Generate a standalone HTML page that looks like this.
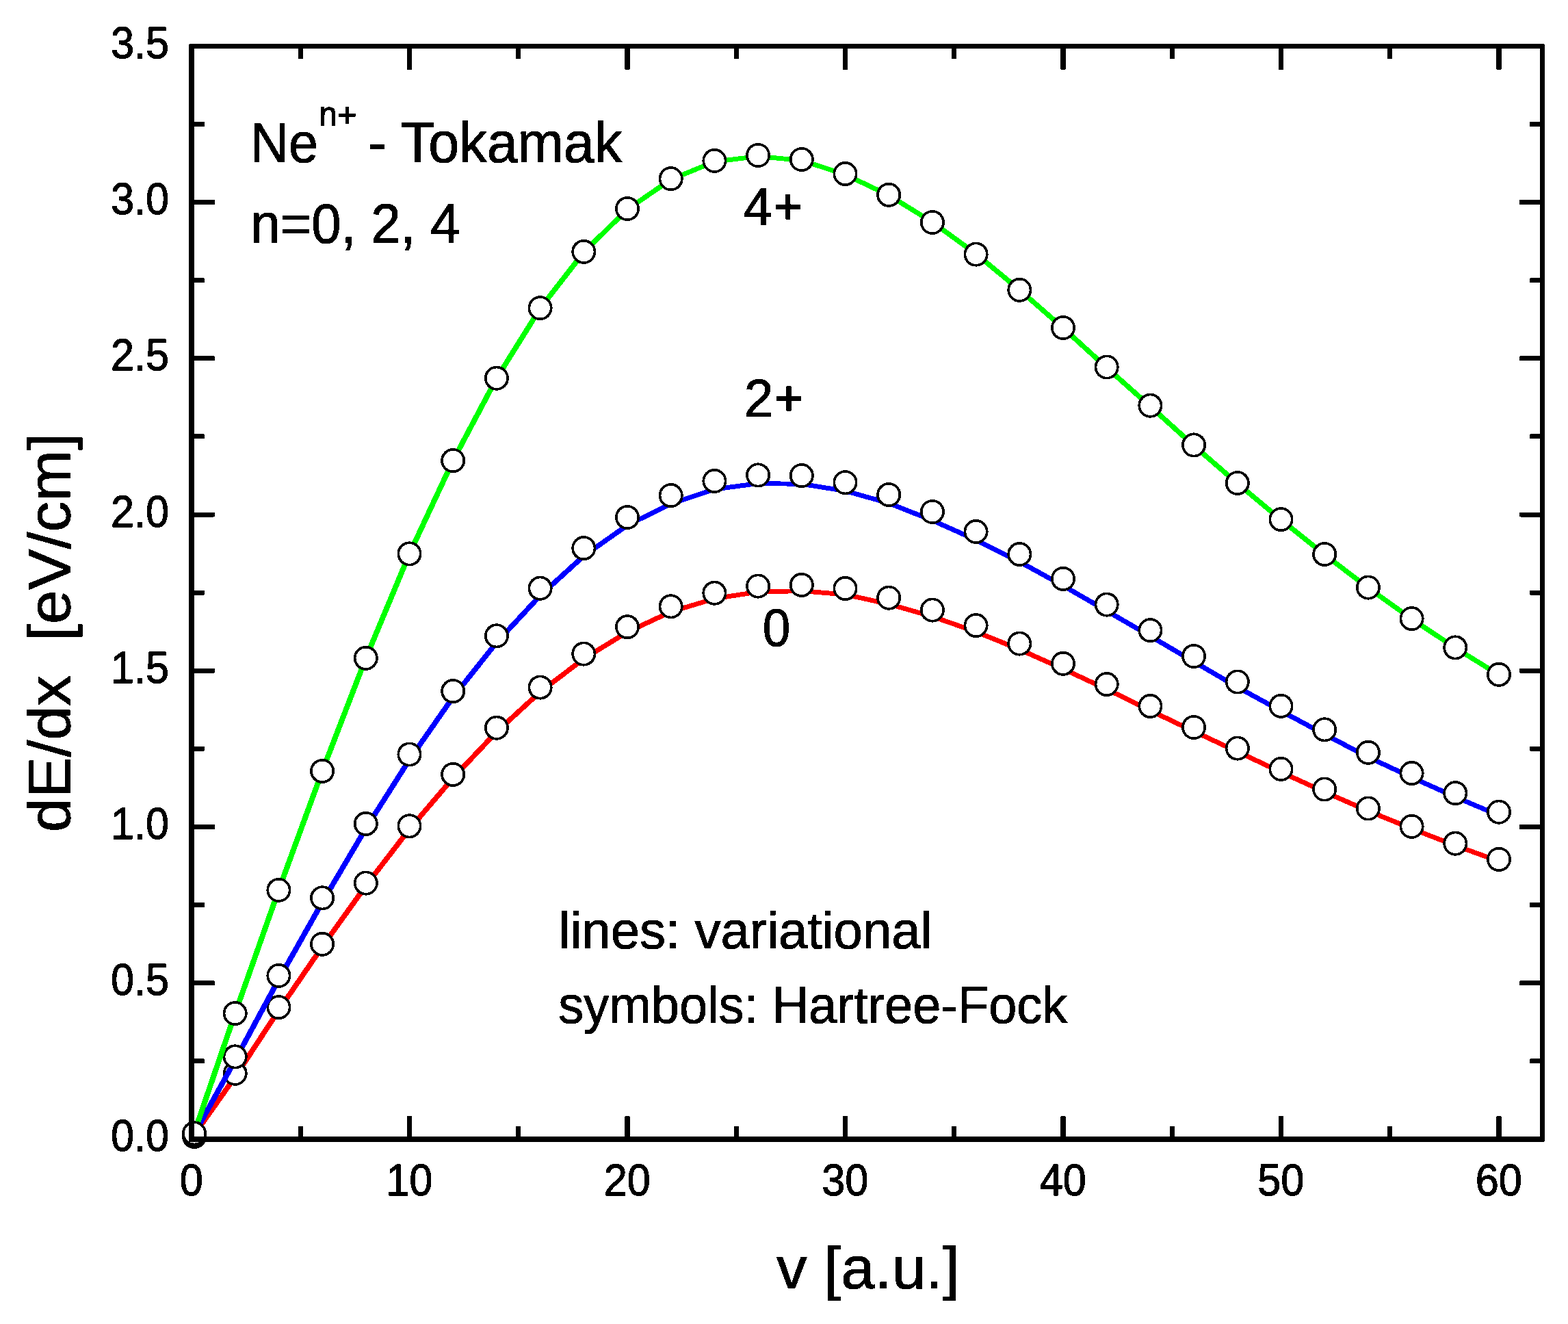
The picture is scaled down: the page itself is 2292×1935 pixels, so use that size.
<!DOCTYPE html>
<html lang="en">
<head>
<meta charset="utf-8">
<title>dE/dx vs v - Ne(n+) in Tokamak plasma</title>
<style>
html,body{margin:0;padding:0;background:#fff;}
body{width:2292px;height:1935px;overflow:hidden;}
svg{display:block;}
text{white-space:pre;}
</style>
</head>
<body>
<svg width="2292" height="1935" viewBox="0 0 2292 1935">
<rect x="0" y="0" width="2292" height="1935" fill="#fff"/>
<defs><filter id="hard" x="0" y="0" width="2292" height="1935" filterUnits="userSpaceOnUse" color-interpolation-filters="sRGB"><feComponentTransfer><feFuncA type="discrete" tableValues="0 1"/></feComponentTransfer></filter></defs>
<g id="data" shape-rendering="crispEdges">
<g fill="none" stroke="#ff0000" stroke-linecap="round"><path d="M282.00 1661.00L343.70 1573.80" stroke-width="7.77"/><path d="M343.70 1573.80L407.40 1476.50" stroke-width="7.81"/><path d="M407.40 1476.50L471.10 1383.60" stroke-width="7.78"/><path d="M471.10 1383.60L534.80 1294.42" stroke-width="7.76"/><path d="M534.80 1294.42L598.50 1211.77" stroke-width="7.72"/><path d="M598.50 1211.77L662.20 1137.07" stroke-width="7.65"/><path d="M662.20 1137.07L725.90 1069.60" stroke-width="7.59"/><path d="M725.90 1069.60L789.60 1011.23" stroke-width="7.49"/><path d="M789.60 1011.23L853.30 962.77" stroke-width="7.38"/><path d="M853.30 962.77L917.00 923.70" stroke-width="7.26"/><path d="M917.00 923.70L980.70 894.13" stroke-width="7.13"/><path d="M980.70 894.13L1044.40 874.85" stroke-width="7.01"/><path d="M1044.40 874.85L1108.10 865.05" stroke-width="6.93"/><path d="M1108.10 865.05L1171.80 863.60" stroke-width="6.90"/><path d="M1171.80 863.60L1235.50 868.90" stroke-width="6.91"/><path d="M1235.50 868.90L1299.20 882.85" stroke-width="6.96"/><path d="M1299.20 882.85L1362.90 901.05" stroke-width="7.00"/><path d="M1362.90 901.05L1426.60 923.35" stroke-width="7.04"/><path d="M1426.60 923.35L1490.30 949.15" stroke-width="7.08"/><path d="M1490.30 949.15L1554.00 977.67" stroke-width="7.12"/><path d="M1554.00 977.67L1617.70 1007.22" stroke-width="7.13"/><path d="M1617.70 1007.22L1681.40 1038.53" stroke-width="7.15"/><path d="M1681.40 1038.53L1745.10 1068.77" stroke-width="7.14"/><path d="M1745.10 1068.77L1808.80 1098.60" stroke-width="7.13"/><path d="M1808.80 1098.60L1872.50 1128.39" stroke-width="7.13"/><path d="M1872.50 1128.39L1936.20 1157.49" stroke-width="7.12"/><path d="M1936.20 1157.49L1999.90 1185.12" stroke-width="7.11"/><path d="M1999.90 1185.12L2063.60 1211.13" stroke-width="7.09"/><path d="M2063.60 1211.13L2127.30 1235.74" stroke-width="7.07"/><path d="M2127.30 1235.74L2191.00 1258.70" stroke-width="7.05"/></g>
<g fill="#fff" stroke="#000" stroke-width="3.7"><circle cx="284.00" cy="1661.00" r="16.15"/><circle cx="343.70" cy="1568.80" r="16.15"/><circle cx="407.40" cy="1472.10" r="16.15"/><circle cx="471.10" cy="1379.80" r="16.15"/><circle cx="534.80" cy="1290.60" r="16.15"/><circle cx="598.50" cy="1207.30" r="16.15"/><circle cx="662.20" cy="1131.90" r="16.15"/><circle cx="725.90" cy="1063.70" r="16.15"/><circle cx="789.60" cy="1004.60" r="16.15"/><circle cx="853.30" cy="955.60" r="16.15"/><circle cx="917.00" cy="916.20" r="16.15"/><circle cx="980.70" cy="886.30" r="16.15"/><circle cx="1044.40" cy="866.70" r="16.15"/><circle cx="1108.10" cy="856.60" r="16.15"/><circle cx="1171.80" cy="854.90" r="16.15"/><circle cx="1235.50" cy="860.00" r="16.15"/><circle cx="1299.20" cy="873.70" r="16.15"/><circle cx="1362.90" cy="891.60" r="16.15"/><circle cx="1426.60" cy="914.10" r="16.15"/><circle cx="1490.30" cy="940.60" r="16.15"/><circle cx="1554.00" cy="969.80" r="16.15"/><circle cx="1617.70" cy="1000.00" r="16.15"/><circle cx="1681.40" cy="1032.00" r="16.15"/><circle cx="1745.10" cy="1063.00" r="16.15"/><circle cx="1808.80" cy="1093.60" r="16.15"/><circle cx="1872.50" cy="1123.90" r="16.15"/><circle cx="1936.20" cy="1153.50" r="16.15"/><circle cx="1999.90" cy="1181.50" r="16.15"/><circle cx="2063.60" cy="1207.80" r="16.15"/><circle cx="2127.30" cy="1232.70" r="16.15"/><circle cx="2191.00" cy="1255.90" r="16.15"/></g>
<g fill="none" stroke="#0000ff" stroke-linecap="round"><path d="M282.00 1661.00L343.70 1549.40" stroke-width="7.90"/><path d="M343.70 1549.40L407.40 1431.55" stroke-width="7.91"/><path d="M407.40 1431.55L471.10 1318.60" stroke-width="7.89"/><path d="M471.10 1318.60L534.80 1210.70" stroke-width="7.86"/><path d="M534.80 1210.70L598.50 1110.28" stroke-width="7.83"/><path d="M598.50 1110.28L662.20 1018.86" stroke-width="7.78"/><path d="M662.20 1018.86L725.90 939.03" stroke-width="7.69"/><path d="M725.90 939.03L789.60 870.41" stroke-width="7.60"/><path d="M789.60 870.41L853.30 812.46" stroke-width="7.49"/><path d="M853.30 812.46L917.00 767.68" stroke-width="7.33"/><path d="M917.00 767.68L980.70 736.10" stroke-width="7.16"/><path d="M980.70 736.10L1044.40 715.08" stroke-width="7.03"/><path d="M1044.40 715.08L1108.10 706.56" stroke-width="6.92"/><path d="M1108.10 706.56L1171.80 707.33" stroke-width="6.90"/><path d="M1171.80 707.33L1235.50 717.48" stroke-width="6.93"/><path d="M1235.50 717.48L1299.20 735.38" stroke-width="7.00"/><path d="M1299.20 735.38L1362.90 760.52" stroke-width="7.08"/><path d="M1362.90 760.52L1426.60 789.08" stroke-width="7.12"/><path d="M1426.60 789.08L1490.30 821.02" stroke-width="7.16"/><path d="M1490.30 821.02L1554.00 855.96" stroke-width="7.20"/><path d="M1554.00 855.96L1617.70 892.77" stroke-width="7.23"/><path d="M1617.70 892.77L1681.40 929.66" stroke-width="7.23"/><path d="M1681.40 929.66L1745.10 967.07" stroke-width="7.23"/><path d="M1745.10 967.07L1808.80 1004.18" stroke-width="7.23"/><path d="M1808.80 1004.18L1872.50 1039.09" stroke-width="7.20"/><path d="M1872.50 1039.09L1936.20 1073.23" stroke-width="7.19"/><path d="M1936.20 1073.23L1999.90 1106.44" stroke-width="7.18"/><path d="M1999.90 1106.44L2063.60 1136.17" stroke-width="7.13"/><path d="M2063.60 1136.17L2127.30 1164.73" stroke-width="7.12"/><path d="M2127.30 1164.73L2191.00 1191.70" stroke-width="7.10"/></g>
<g fill="#fff" stroke="#000" stroke-width="3.7"><circle cx="284.00" cy="1659.00" r="16.15"/><circle cx="343.70" cy="1544.40" r="16.15"/><circle cx="407.40" cy="1425.90" r="16.15"/><circle cx="471.10" cy="1312.30" r="16.15"/><circle cx="534.80" cy="1203.90" r="16.15"/><circle cx="598.50" cy="1102.50" r="16.15"/><circle cx="662.20" cy="1010.10" r="16.15"/><circle cx="725.90" cy="929.30" r="16.15"/><circle cx="789.60" cy="859.70" r="16.15"/><circle cx="853.30" cy="801.10" r="16.15"/><circle cx="917.00" cy="756.00" r="16.15"/><circle cx="980.70" cy="724.10" r="16.15"/><circle cx="1044.40" cy="703.00" r="16.15"/><circle cx="1108.10" cy="694.40" r="16.15"/><circle cx="1171.80" cy="695.10" r="16.15"/><circle cx="1235.50" cy="705.20" r="16.15"/><circle cx="1299.20" cy="723.00" r="16.15"/><circle cx="1362.90" cy="748.00" r="16.15"/><circle cx="1426.60" cy="777.00" r="16.15"/><circle cx="1490.30" cy="810.00" r="16.15"/><circle cx="1554.00" cy="845.90" r="16.15"/><circle cx="1617.70" cy="883.60" r="16.15"/><circle cx="1681.40" cy="921.20" r="16.15"/><circle cx="1745.10" cy="959.00" r="16.15"/><circle cx="1808.80" cy="996.50" r="16.15"/><circle cx="1872.50" cy="1031.80" r="16.15"/><circle cx="1936.20" cy="1066.30" r="16.15"/><circle cx="1999.90" cy="1099.80" r="16.15"/><circle cx="2063.60" cy="1130.00" r="16.15"/><circle cx="2127.30" cy="1159.20" r="16.15"/><circle cx="2191.00" cy="1186.70" r="16.15"/></g>
<g fill="none" stroke="#00ff00" stroke-linecap="round"><path d="M282.00 1661.00L343.70 1481.00" stroke-width="8.06"/><path d="M343.70 1481.00L407.40 1300.80" stroke-width="8.06"/><path d="M407.40 1300.80L471.10 1126.90" stroke-width="8.05"/><path d="M471.10 1126.90L534.80 961.80" stroke-width="8.03"/><path d="M534.80 961.80L598.50 809.40" stroke-width="8.01"/><path d="M598.50 809.40L662.20 673.10" stroke-width="7.97"/><path d="M662.20 673.10L725.90 552.95" stroke-width="7.91"/><path d="M725.90 552.95L789.60 450.70" stroke-width="7.84"/><path d="M789.60 450.70L853.30 368.65" stroke-width="7.71"/><path d="M853.30 368.65L917.00 306.00" stroke-width="7.54"/><path d="M917.00 306.00L980.70 262.37" stroke-width="7.32"/><path d="M980.70 262.37L1044.40 236.24" stroke-width="7.09"/><path d="M1044.40 236.24L1108.10 228.51" stroke-width="6.92"/><path d="M1108.10 228.51L1171.80 234.45" stroke-width="6.91"/><path d="M1171.80 234.45L1235.50 255.15" stroke-width="7.02"/><path d="M1235.50 255.15L1299.20 285.35" stroke-width="7.14"/><path d="M1299.20 285.35L1362.90 324.65" stroke-width="7.26"/><path d="M1362.90 324.65L1426.60 371.00" stroke-width="7.35"/><path d="M1426.60 371.00L1490.30 423.60" stroke-width="7.43"/><path d="M1490.30 423.60L1554.00 479.24" stroke-width="7.46"/><path d="M1554.00 479.24L1617.70 537.22" stroke-width="7.49"/><path d="M1617.70 537.22L1681.40 593.90" stroke-width="7.47"/><path d="M1681.40 593.90L1745.10 651.25" stroke-width="7.48"/><path d="M1745.10 651.25L1808.80 706.50" stroke-width="7.46"/><path d="M1808.80 706.50L1872.50 759.60" stroke-width="7.43"/><path d="M1872.50 759.60L1936.20 810.50" stroke-width="7.41"/><path d="M1936.20 810.50L1999.90 859.10" stroke-width="7.38"/><path d="M1999.90 859.10L2063.60 904.60" stroke-width="7.34"/><path d="M2063.60 904.60L2127.30 946.90" stroke-width="7.30"/><path d="M2127.30 946.90L2191.00 986.30" stroke-width="7.26"/></g>
<g fill="#fff" stroke="#000" stroke-width="3.7"><circle cx="284.00" cy="1656.30" r="16.15"/><circle cx="343.70" cy="1481.00" r="16.15"/><circle cx="407.40" cy="1300.80" r="16.15"/><circle cx="471.10" cy="1126.90" r="16.15"/><circle cx="534.80" cy="961.80" r="16.15"/><circle cx="598.50" cy="809.40" r="16.15"/><circle cx="662.20" cy="673.10" r="16.15"/><circle cx="725.90" cy="552.70" r="16.15"/><circle cx="789.60" cy="450.20" r="16.15"/><circle cx="853.30" cy="367.90" r="16.15"/><circle cx="917.00" cy="305.00" r="16.15"/><circle cx="980.70" cy="261.20" r="16.15"/><circle cx="1044.40" cy="234.90" r="16.15"/><circle cx="1108.10" cy="227.00" r="16.15"/><circle cx="1171.80" cy="233.00" r="16.15"/><circle cx="1235.50" cy="254.00" r="16.15"/><circle cx="1299.20" cy="284.80" r="16.15"/><circle cx="1362.90" cy="325.00" r="16.15"/><circle cx="1426.60" cy="371.60" r="16.15"/><circle cx="1490.30" cy="423.80" r="16.15"/><circle cx="1554.00" cy="479.00" r="16.15"/><circle cx="1617.70" cy="536.50" r="16.15"/><circle cx="1681.40" cy="592.70" r="16.15"/><circle cx="1745.10" cy="650.40" r="16.15"/><circle cx="1808.80" cy="706.00" r="16.15"/><circle cx="1872.50" cy="759.10" r="16.15"/><circle cx="1936.20" cy="810.00" r="16.15"/><circle cx="1999.90" cy="858.60" r="16.15"/><circle cx="2063.60" cy="904.10" r="16.15"/><circle cx="2127.30" cy="946.40" r="16.15"/><circle cx="2191.00" cy="985.80" r="16.15"/></g>
</g>
<g id="axes" fill="#000" shape-rendering="crispEdges">
<path fill-rule="evenodd" d="M278.5 64.0H2255.5Q2258.0 64.0 2258.0 66.5V1666.5Q2258.0 1669.0 2255.5 1669.0H278.5Q276.0 1669.0 276.0 1666.5V66.5Q276.0 64.0 278.5 64.0Z M284.0 71.0V1661.0H2251.0V71.0Z"/>
<rect x="435.55" y="1646.00" width="7.40" height="17.00" rx="1.6" ry="1.6"/><rect x="435.55" y="69.00" width="7.40" height="17.00" rx="1.6" ry="1.6"/><rect x="594.80" y="1630.70" width="7.40" height="32.30" rx="1.6" ry="1.6"/><rect x="594.80" y="69.00" width="7.40" height="33.00" rx="1.6" ry="1.6"/><rect x="754.05" y="1646.00" width="7.40" height="17.00" rx="1.6" ry="1.6"/><rect x="754.05" y="69.00" width="7.40" height="17.00" rx="1.6" ry="1.6"/><rect x="913.30" y="1630.70" width="7.40" height="32.30" rx="1.6" ry="1.6"/><rect x="913.30" y="69.00" width="7.40" height="33.00" rx="1.6" ry="1.6"/><rect x="1072.55" y="1646.00" width="7.40" height="17.00" rx="1.6" ry="1.6"/><rect x="1072.55" y="69.00" width="7.40" height="17.00" rx="1.6" ry="1.6"/><rect x="1231.80" y="1630.70" width="7.40" height="32.30" rx="1.6" ry="1.6"/><rect x="1231.80" y="69.00" width="7.40" height="33.00" rx="1.6" ry="1.6"/><rect x="1391.05" y="1646.00" width="7.40" height="17.00" rx="1.6" ry="1.6"/><rect x="1391.05" y="69.00" width="7.40" height="17.00" rx="1.6" ry="1.6"/><rect x="1550.30" y="1630.70" width="7.40" height="32.30" rx="1.6" ry="1.6"/><rect x="1550.30" y="69.00" width="7.40" height="33.00" rx="1.6" ry="1.6"/><rect x="1709.55" y="1646.00" width="7.40" height="17.00" rx="1.6" ry="1.6"/><rect x="1709.55" y="69.00" width="7.40" height="17.00" rx="1.6" ry="1.6"/><rect x="1868.80" y="1630.70" width="7.40" height="32.30" rx="1.6" ry="1.6"/><rect x="1868.80" y="69.00" width="7.40" height="33.00" rx="1.6" ry="1.6"/><rect x="2028.05" y="1646.00" width="7.40" height="17.00" rx="1.6" ry="1.6"/><rect x="2028.05" y="69.00" width="7.40" height="17.00" rx="1.6" ry="1.6"/><rect x="2187.30" y="1630.70" width="7.40" height="32.30" rx="1.6" ry="1.6"/><rect x="2187.30" y="69.00" width="7.40" height="33.00" rx="1.6" ry="1.6"/><rect x="282.00" y="1547.29" width="17.00" height="7.00" rx="1.6" ry="1.6"/><rect x="2236.00" y="1547.29" width="17.00" height="7.00" rx="1.6" ry="1.6"/><rect x="282.00" y="1433.19" width="32.00" height="7.00" rx="1.6" ry="1.6"/><rect x="2221.00" y="1433.19" width="32.00" height="7.00" rx="1.6" ry="1.6"/><rect x="282.00" y="1319.08" width="17.00" height="7.00" rx="1.6" ry="1.6"/><rect x="2236.00" y="1319.08" width="17.00" height="7.00" rx="1.6" ry="1.6"/><rect x="282.00" y="1204.97" width="32.00" height="7.00" rx="1.6" ry="1.6"/><rect x="2221.00" y="1204.97" width="32.00" height="7.00" rx="1.6" ry="1.6"/><rect x="282.00" y="1090.86" width="17.00" height="7.00" rx="1.6" ry="1.6"/><rect x="2236.00" y="1090.86" width="17.00" height="7.00" rx="1.6" ry="1.6"/><rect x="282.00" y="976.75" width="32.00" height="7.00" rx="1.6" ry="1.6"/><rect x="2221.00" y="976.75" width="32.00" height="7.00" rx="1.6" ry="1.6"/><rect x="282.00" y="862.65" width="17.00" height="7.00" rx="1.6" ry="1.6"/><rect x="2236.00" y="862.65" width="17.00" height="7.00" rx="1.6" ry="1.6"/><rect x="282.00" y="748.54" width="32.00" height="7.00" rx="1.6" ry="1.6"/><rect x="2221.00" y="748.54" width="32.00" height="7.00" rx="1.6" ry="1.6"/><rect x="282.00" y="634.43" width="17.00" height="7.00" rx="1.6" ry="1.6"/><rect x="2236.00" y="634.43" width="17.00" height="7.00" rx="1.6" ry="1.6"/><rect x="282.00" y="520.32" width="32.00" height="7.00" rx="1.6" ry="1.6"/><rect x="2221.00" y="520.32" width="32.00" height="7.00" rx="1.6" ry="1.6"/><rect x="282.00" y="406.22" width="17.00" height="7.00" rx="1.6" ry="1.6"/><rect x="2236.00" y="406.22" width="17.00" height="7.00" rx="1.6" ry="1.6"/><rect x="282.00" y="292.11" width="32.00" height="7.00" rx="1.6" ry="1.6"/><rect x="2221.00" y="292.11" width="32.00" height="7.00" rx="1.6" ry="1.6"/><rect x="282.00" y="178.00" width="17.00" height="7.00" rx="1.6" ry="1.6"/><rect x="2236.00" y="178.00" width="17.00" height="7.00" rx="1.6" ry="1.6"/>
</g>
<g id="labels" filter="url(#hard)">
<g id="ticklabels" font-family="'Liberation Sans', Arial, sans-serif" font-size="62" fill="#000" stroke="#000" stroke-width="1.2" stroke-linejoin="round">
<text transform="translate(279.70 1746.90) scale(0.988 1.052)" text-anchor="middle">0</text>
<text transform="translate(598.20 1746.90) scale(0.988 1.052)" text-anchor="middle">10</text>
<text transform="translate(916.70 1746.90) scale(0.988 1.052)" text-anchor="middle">20</text>
<text transform="translate(1235.20 1746.90) scale(0.988 1.052)" text-anchor="middle">30</text>
<text transform="translate(1553.70 1746.90) scale(0.988 1.052)" text-anchor="middle">40</text>
<text transform="translate(1872.20 1746.90) scale(0.988 1.052)" text-anchor="middle">50</text>
<text transform="translate(2190.70 1746.90) scale(0.988 1.052)" text-anchor="middle">60</text>
<text transform="translate(247.05 1682.40) scale(0.988 1.052)" text-anchor="end">0.0</text>
<text transform="translate(247.05 1454.19) scale(0.988 1.052)" text-anchor="end">0.5</text>
<text transform="translate(247.05 1225.97) scale(0.988 1.052)" text-anchor="end">1.0</text>
<text transform="translate(247.05 997.75) scale(0.988 1.052)" text-anchor="end">1.5</text>
<text transform="translate(247.05 769.54) scale(0.988 1.052)" text-anchor="end">2.0</text>
<text transform="translate(247.05 541.32) scale(0.988 1.052)" text-anchor="end">2.5</text>
<text transform="translate(247.05 313.11) scale(0.988 1.052)" text-anchor="end">3.0</text>
<text transform="translate(247.05 84.89) scale(0.988 1.052)" text-anchor="end">3.5</text>
</g>
<g id="titles" font-family="'Liberation Sans', Arial, sans-serif" fill="#000" stroke="#000" stroke-width="1.0" stroke-linejoin="round">
<text transform="translate(1135.05 1883.47) scale(1.0027 0.975)" font-size="89">v [a.u.]</text>
<text transform="translate(102.45 1216.24) rotate(-90) scale(0.9967 0.9665)" font-size="90">dE/dx  [eV/cm]</text>
</g>
<g id="notes" font-family="'Liberation Sans', Arial, sans-serif" fill="#000" stroke="#000" stroke-linejoin="round">
<text transform="translate(366.10 237.16) scale(0.9435 0.9906)" font-size="82" stroke-width="1.1">Ne</text>
<text transform="translate(466.53 183.22) scale(0.8979 0.9119)" font-size="52" stroke-width="1.4">n<tspan x="29.97" y="1.39" font-size="53.16" stroke-width="1.8">+</tspan></text>
<text transform="translate(538.04 237.14) scale(0.9853 1.0073)" font-size="82" stroke-width="1.1">- Tokamak</text>
<text transform="translate(366.24 354.82) scale(0.9529 0.9856)" font-size="82" stroke-width="1.1">n=0, 2, 4</text>
<text transform="translate(1086.79 329.21) scale(0.9679 0.9863)" font-size="78" stroke-width="1.1">4<tspan x="46.28" y="-3.01" font-size="72.29" stroke-width="2.2">+</tspan></text>
<text transform="translate(1087.80 609.20) scale(0.985 0.991)" font-size="78" stroke-width="1.1">2<tspan x="45.41" y="-3.08" font-size="71.59" stroke-width="2.2">+</tspan></text>
<text transform="translate(1114.66 943.75) scale(0.9366 0.9973)" font-size="78" stroke-width="1.1">0</text>
<text transform="translate(816.46 1385.57) scale(0.9764 0.9837)" font-size="78" stroke-width="1.0">lines: variational</text>
<text transform="translate(816.24 1494.97) scale(0.9487 0.9837)" font-size="78" stroke-width="1.0">symbols: Hartree-Fock</text>
</g>
</g>
</svg>
</body>
</html>
